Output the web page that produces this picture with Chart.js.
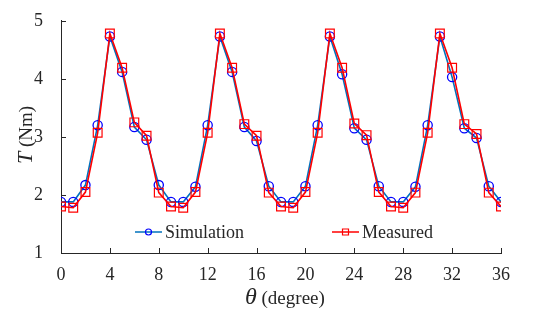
<!DOCTYPE html>
<html>
<head>
<meta charset="utf-8">
<script src="https://cdn.jsdelivr.net/npm/chart.js@4/dist/chart.umd.min.js"></script>
<style>
  html, body { margin: 0; padding: 0; background: #fff; }
  #wrap { width: 541px; height: 320px; position: relative; }
</style>
</head>
<body>
<div id="wrap"><canvas id="torqueChart"></canvas></div>
<script>
// --- Data ---
const angles = [0, 1, 2, 3, 4, 5, 6, 7, 8, 9, 10, 11, 12, 13, 14, 15, 16, 17, 18,
                19, 20, 21, 22, 23, 24, 25, 26, 27, 28, 29, 30, 31, 32, 33, 34, 35, 36];
const simulation = [1.88, 1.88, 2.17, 3.2, 4.73, 4.12, 3.17, 2.95, 2.17, 1.88, 1.88, 2.14, 3.2,
                    4.73, 4.12, 3.17, 2.93, 2.15, 1.88, 1.88, 2.15, 3.2, 4.73, 4.08, 3.15,
                    2.95, 2.15, 1.88, 1.88, 2.14, 3.2, 4.73, 4.03, 3.15, 2.98, 2.15, 1.88];
const measured = [1.8, 1.78, 2.05, 3.07, 4.78, 4.19, 3.25, 3.02, 2.04, 1.8, 1.78, 2.05, 3.07,
                  4.78, 4.19, 3.22, 3.02, 2.04, 1.8, 1.78, 2.05, 3.07, 4.78, 4.19, 3.23,
                  3.03, 2.05, 1.8, 1.78, 2.04, 3.07, 4.78, 4.19, 3.22, 3.05, 2.04, 1.8];
const xTicks = [0, 4, 8, 12, 16, 20, 24, 28, 32, 36];
const yTicks = [1, 2, 3, 4, 5];

const TEXT = '#262626';
const SERIF = '"Liberation Serif", "Times New Roman", serif';

function toPoints(vals) {
    return angles.map((a, i) => ({ x: a, y: vals[i] }));
}

// inward tick marks (MATLAB style)
const inwardTicks = {
    id: 'inwardTicks',
    afterDatasetsDraw(chart) {
        const { ctx, chartArea, scales } = chart;
        ctx.save();
        ctx.strokeStyle = TEXT;
        ctx.lineWidth = 1;
        ctx.beginPath();
        xTicks.forEach(v => {
            const px = Math.round(scales.x.getPixelForValue(v)) + 0.5;
            ctx.moveTo(px, chartArea.bottom);
            ctx.lineTo(px, chartArea.bottom - 5);
        });
        yTicks.forEach(v => {
            const py = Math.round(scales.y.getPixelForValue(v)) + 0.5;
            ctx.moveTo(chartArea.left, py);
            ctx.lineTo(chartArea.left + 5, py);
        });
        ctx.stroke();
        ctx.restore();
    }
};

// axis titles with italic symbols
const axisTitles = {
    id: 'axisTitles',
    afterDraw(chart) {
        const { ctx } = chart;
        ctx.save();
        ctx.fillStyle = TEXT;
        ctx.textBaseline = 'alphabetic';
        // x title
        ctx.font = 'italic 24px ' + SERIF;
        const thW = ctx.measureText('θ').width;
        ctx.fillText('θ', 245, 304);
        ctx.font = '19px ' + SERIF;
        ctx.fillText(' (degree)', 245 + thW, 304);
        // y title
        ctx.translate(32, 135);
        ctx.rotate(-Math.PI / 2);
        ctx.font = 'italic 22px ' + SERIF;
        const tW = ctx.measureText('T').width;
        ctx.font = '19px ' + SERIF;
        const restW = ctx.measureText(' (Nm)').width;
        const start = -(tW + restW) / 2;
        ctx.font = 'italic 22px ' + SERIF;
        ctx.fillText('T', start, 0);
        ctx.font = '19px ' + SERIF;
        ctx.fillText(' (Nm)', start + tW, 0);
        ctx.restore();
    }
};

// legend drawn inside the plot area
const innerLegend = {
    id: 'innerLegend',
    afterDraw(chart) {
        const { ctx } = chart;
        const items = [
            { ds: chart.data.datasets[1], x: 135, text: 'Simulation' },
            { ds: chart.data.datasets[0], x: 332, text: 'Measured' }
        ];
        const y = 232;
        ctx.save();
        items.forEach(it => {
            ctx.strokeStyle = it.ds.borderColor;
            ctx.lineWidth = 1.5;
            ctx.beginPath();
            ctx.moveTo(it.x, y);
            ctx.lineTo(it.x + 27, y);
            ctx.stroke();
            ctx.strokeStyle = it.ds.pointBorderColor;
            ctx.lineWidth = 1.2;
            ctx.beginPath();
            if (it.ds.pointStyle === 'rect') {
                ctx.rect(it.x + 13.5 - 3, y - 3, 6, 6);
            } else {
                ctx.arc(it.x + 13.5, y, 3, 0, Math.PI * 2);
            }
            ctx.stroke();
            ctx.fillStyle = TEXT;
            ctx.font = '18px ' + SERIF;
            ctx.textBaseline = 'middle';
            ctx.fillText(it.text, it.x + 30, y + 1);
        });
        ctx.restore();
    }
};

new Chart(document.getElementById('torqueChart'), {
    type: 'line',
    data: {
        datasets: [
            {
                label: 'Measured',
                data: toPoints(measured),
                borderColor: '#ff0000',
                borderWidth: 1.6,
                pointStyle: 'rect',
                pointRadius: 6.2,
                pointBorderColor: '#ff0000',
                pointBackgroundColor: 'rgba(0,0,0,0)',
                pointBorderWidth: 1.2,
                tension: 0
            },
            {
                label: 'Simulation',
                data: toPoints(simulation),
                borderColor: '#0072BD',
                borderWidth: 1.6,
                pointStyle: 'circle',
                pointRadius: 4.6,
                pointBorderColor: '#0000ff',
                pointBackgroundColor: 'rgba(0,0,0,0)',
                pointBorderWidth: 1.3,
                tension: 0
            }
        ]
    },
    options: {
        responsive: true,
        maintainAspectRatio: false,
        animation: false,
        layout: { padding: { top: 13, right: 40, left: 0, bottom: 0 } },
        plugins: {
            legend: { display: false },
            tooltip: { enabled: false }
        },
        scales: {
            x: {
                type: 'linear',
                min: 0,
                max: 36,
                afterBuildTicks: s => { s.ticks = xTicks.map(v => ({ value: v })); },
                afterFit: s => { s.height = 67; },
                grid: { display: false },
                border: { display: true, color: TEXT, width: 1 },
                ticks: { color: TEXT, padding: 3, font: { family: SERIF, size: 18 } }
            },
            y: {
                min: 1,
                max: 5,
                afterBuildTicks: s => { s.ticks = yTicks.map(v => ({ value: v })); },
                afterFit: s => { s.width = 61; },
                grid: { display: false },
                border: { display: true, color: TEXT, width: 1 },
                ticks: { color: TEXT, padding: 10, font: { family: SERIF, size: 18 } }
            }
        }
    },
    plugins: [inwardTicks, axisTitles, innerLegend]
});
</script>
</body>
</html>
